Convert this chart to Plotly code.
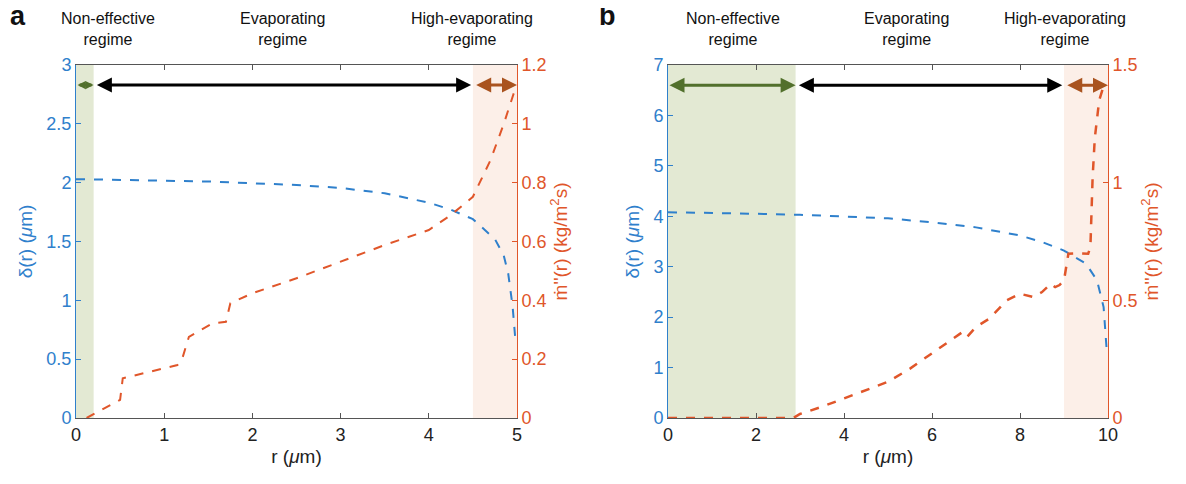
import plotly.graph_objects as go

# ---------------- data ----------------
# Panel a
r_a_delta = [0, 0.5, 1, 1.5, 2, 2.5, 3, 3.5, 4, 4.25, 4.5, 4.75, 4.85, 4.9, 4.95, 4.98]
delta_a = [2.03, 2.025, 2.02, 2.01, 1.995, 1.98, 1.955, 1.91, 1.83, 1.77, 1.69, 1.52, 1.38, 1.23, 0.95, 0.68]
r_a_m = [0.12, 0.5, 0.53, 1.15, 1.2, 1.28, 1.55, 1.7, 1.75, 2.0, 2.5, 3.0, 3.5, 4.0, 4.25, 4.5, 4.7, 4.85, 4.97]
m_a = [0.0, 0.062, 0.135, 0.18, 0.197, 0.276, 0.322, 0.327, 0.39, 0.424, 0.475, 0.531, 0.588, 0.639, 0.69, 0.752, 0.877, 1.0, 1.11]

# Panel b
r_b_delta = [0, 1, 2, 3, 4, 5, 6, 7, 8, 8.5, 9, 9.5, 9.75, 9.9, 9.97]
delta_b = [4.08, 4.07, 4.05, 4.03, 4.0, 3.96, 3.88, 3.78, 3.62, 3.49, 3.32, 3.06, 2.73, 2.2, 1.35]
r_b_m = [0.0, 1.0, 2.0, 2.85, 3.0, 3.5, 4.0, 4.5, 5.0, 5.5, 6.0, 6.5, 6.7, 6.8, 7.0, 7.3, 7.7, 8.0, 8.3, 8.5, 8.7, 8.8, 8.9, 9.0,
         9.1, 9.3, 9.55, 9.6, 9.65, 9.7, 9.8, 9.9]
m_b = [0.0, 0.0, 0.0, 0.0, 0.017, 0.048, 0.083, 0.119, 0.154, 0.21, 0.274, 0.338, 0.366, 0.345, 0.387, 0.422, 0.5, 0.528, 0.514,
       0.535, 0.571, 0.556, 0.565, 0.585, 0.698, 0.70, 0.698, 0.726, 1.02, 1.19, 1.35, 1.41]

# regimes: boundaries per panel
regimes_a = [0.0, 0.2, 4.5, 5.0]
regimes_b = [0.0, 2.9, 9.0, 10.0]
arrow_y_a = 2.83
arrow_y_b = 6.6
regime_labels = ["Non-effective<br>regime", "Evaporating<br>regime", "High-evaporating<br>regime"]
panel_letters = ["a", "b"]

# ---------------- style ----------------
BLUE = "#2f80cc"
RED = "#e0562a"
GREEN_FILL = "#e3e9d3"
PINK_FILL = "#fcefe8"
GREEN_ARR = "#52702c"
BROWN_ARR = "#a9531f"
FONT = "Liberation Sans, Arial, sans-serif"

# page has an 8px body margin; figure sized to fit the window
OFF = 8
W, H = 1186 - 2 * OFF, 484 - 2 * OFF


def px(x):
    return (x - OFF) / W


def py(y):
    return 1 - (y - OFF) / H


fig = go.Figure()

fig.add_trace(go.Scatter(x=r_a_delta, y=delta_a, mode="lines", line=dict(color=BLUE, width=2, dash="dash"),
                         xaxis="x", yaxis="y", showlegend=False))
fig.add_trace(go.Scatter(x=r_a_m, y=m_a, mode="lines", line=dict(color=RED, width=2, dash="dash"),
                         xaxis="x", yaxis="y2", showlegend=False))
fig.add_trace(go.Scatter(x=r_b_delta, y=delta_b, mode="lines", line=dict(color=BLUE, width=2, dash="dash"),
                         xaxis="x2", yaxis="y3", showlegend=False))
fig.add_trace(go.Scatter(x=r_b_m, y=m_b, mode="lines", line=dict(color=RED, width=2.5, dash="dash"),
                         xaxis="x2", yaxis="y4", showlegend=False))

tickfont = dict(family=FONT, size=18, color="#222")
xcommon = dict(showline=True, linecolor="#555", linewidth=1, mirror="ticks", ticks="inside", ticklen=5,
               tickcolor="#555", showgrid=False, zeroline=False, tickfont=tickfont, automargin=False,
               title=dict(text="r (<i>μ</i>m)", font=dict(family=FONT, size=19, color="#222"), standoff=6))


def ycommon(color):
    return dict(showline=True, linecolor=color, ticks="inside", ticklen=5, tickcolor=color, showgrid=False,
                zeroline=False, automargin=False, tickfont=dict(family=FONT, size=18, color=color))


ydom = [py(418), py(65)]
fig.update_layout(
    width=W, height=H, margin=dict(l=0, r=0, t=0, b=0, autoexpand=False),
    paper_bgcolor="white", plot_bgcolor="white",
    xaxis=dict(domain=[px(76), px(517)], range=[0, 5], dtick=1, anchor="y", **xcommon),
    xaxis2=dict(domain=[px(668), px(1108)], range=[0, 10], dtick=2, anchor="y3", **xcommon),
    yaxis=dict(domain=ydom, range=[0, 3], dtick=0.5, anchor="x", **ycommon(BLUE),
               title=dict(text="δ(r) (<i>μ</i>m)", font=dict(family=FONT, size=19, color=BLUE), standoff=8)),
    yaxis2=dict(range=[0, 1.2], dtick=0.2, overlaying="y", side="right", anchor="x", **ycommon(RED),
                title=dict(text="ṁ''(r) (kg/m<sup>2</sup>s)", font=dict(family=FONT, size=19, color=RED), standoff=8)),
    yaxis3=dict(domain=ydom, range=[0, 7], dtick=1, anchor="x2", **ycommon(BLUE),
                title=dict(text="δ(r) (<i>μ</i>m)", font=dict(family=FONT, size=19, color=BLUE), standoff=8)),
    yaxis4=dict(range=[0, 1.5], dtick=0.5, overlaying="y3", side="right", anchor="x2", **ycommon(RED),
                title=dict(text="ṁ''(r) (kg/m<sup>2</sup>s)", font=dict(family=FONT, size=19, color=RED), standoff=8)),
)

shapes = []
annotations = []
for xr, yr, reg, ay in [("x", "y", regimes_a, arrow_y_a), ("x2", "y3", regimes_b, arrow_y_b)]:
    shapes.append(dict(type="rect", xref=xr, yref=yr + " domain", x0=reg[0], x1=reg[1], y0=0, y1=1,
                       fillcolor=GREEN_FILL, line=dict(width=0), layer="below"))
    shapes.append(dict(type="rect", xref=xr, yref=yr + " domain", x0=reg[2], x1=reg[3], y0=0, y1=1,
                       fillcolor=PINK_FILL, line=dict(width=0), layer="below"))
    span = reg[3] - reg[0]
    gap = span * 0.004
    segs = [(reg[0], reg[1], GREEN_ARR), (reg[1] + gap, reg[2] - gap, "black"), (reg[2] + gap, reg[3], BROWN_ARR)]
    for x0, x1, col in segs:
        short = (x1 - x0) / span < 0.06
        annotations.append(dict(x=x1, y=ay, ax=x0, ay=ay, xref=xr, yref=yr, axref=xr, ayref=yr,
                                showarrow=True, arrowside="end+start", arrowhead=2,
                                arrowsize=0.55 if short else 1.0,
                                arrowwidth=3, arrowcolor=col, text=""))

# top labels in page pixels
top_labels = [(108, regime_labels[0]), (282, regime_labels[1]), (472, regime_labels[2]),
              (733, regime_labels[0]), (906, regime_labels[1]), (1065, regime_labels[2])]
for x_, lab in top_labels:
    annotations.append(dict(x=px(x_), y=py(29), xref="paper", yref="paper", text=lab, showarrow=False,
                            font=dict(family=FONT, size=16, color="#111"), xanchor="center", yanchor="middle"))
for x_, lab in zip([18, 607], panel_letters):
    annotations.append(dict(x=px(x_), y=py(16), xref="paper", yref="paper", text="<b>" + lab + "</b>",
                            showarrow=False, font=dict(family=FONT, size=27, color="#111"),
                            xanchor="center", yanchor="middle"))

fig.update_layout(shapes=shapes, annotations=annotations)
fig.write_html("out.html")
